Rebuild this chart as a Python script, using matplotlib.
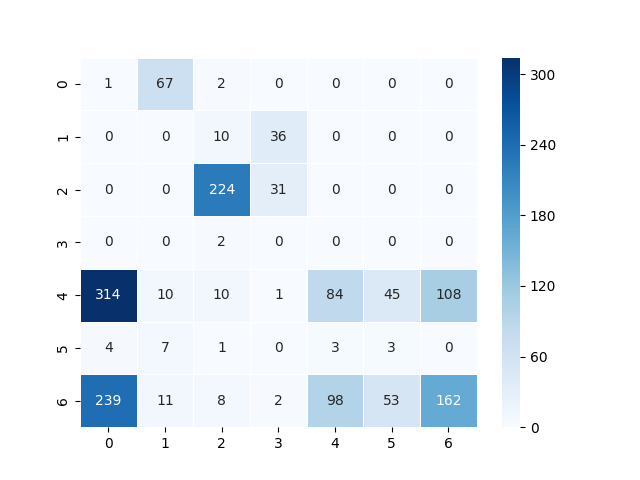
import matplotlib
matplotlib.use("Agg")
import matplotlib.pyplot as plt
import numpy as np
import seaborn as sns

labels = [0, 1, 2, 3, 4, 5, 6]

row_0 = [1, 67, 2, 0, 0, 0, 0]
row_1 = [0, 0, 10, 36, 0, 0, 0]
row_2 = [0, 0, 224, 31, 0, 0, 0]
row_3 = [0, 0, 2, 0, 0, 0, 0]
row_4 = [314, 10, 10, 1, 84, 45, 108]
row_5 = [4, 7, 1, 0, 3, 3, 0]
row_6 = [239, 11, 8, 2, 98, 53, 162]

cm = np.array([row_0, row_1, row_2, row_3, row_4, row_5, row_6])

cbar_ticks = [0, 60, 120, 180, 240, 300]

fig = plt.figure(figsize=(6.4, 4.8), dpi=100)
ax = sns.heatmap(cm, annot=True, fmt="d", cmap="Blues", linewidths=0.5,
                 xticklabels=labels, yticklabels=labels,
                 cbar_kws={"ticks": cbar_ticks})

plt.savefig("out.png")
